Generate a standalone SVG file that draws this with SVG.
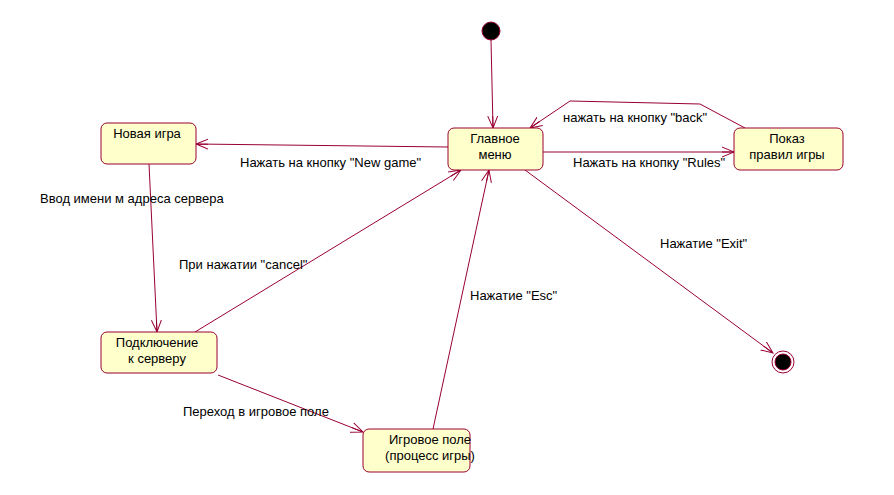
<svg xmlns="http://www.w3.org/2000/svg" width="894" height="495" viewBox="0 0 894 495">
<style>
.n{fill:#ffffcc;stroke:#990033;stroke-width:1}
.t{font-family:"Liberation Sans",Arial,sans-serif;font-size:13px;fill:#000}
.c{fill:none;stroke:#990033;stroke-width:1}
.m{text-anchor:middle}
</style>
<defs>
<marker id="a" markerWidth="14" markerHeight="12" refX="12" refY="6" orient="auto" markerUnits="userSpaceOnUse">
<path d="M0,1 L12,6 L0,11 M0,6 L12,6" fill="none" stroke="#990033" stroke-width="1"/>
</marker>
</defs>
<rect width="894" height="495" fill="#fff"/>
<g id="connectors">
<line class="c" x1="491" y1="40" x2="493" y2="128" marker-end="url(#a)"/>
<line class="c" x1="448" y1="147" x2="196" y2="144" marker-end="url(#a)"/>
<line class="c" x1="543" y1="152" x2="734" y2="152" marker-end="url(#a)"/>
<polyline class="c" points="745,128 700,104 570,101 530,128" marker-end="url(#a)"/>
<line class="c" x1="149" y1="164" x2="157" y2="332" marker-end="url(#a)"/>
<line class="c" x1="195" y1="332" x2="461" y2="170" marker-end="url(#a)"/>
<line class="c" x1="218" y1="375" x2="363" y2="432" marker-end="url(#a)"/>
<line class="c" x1="433" y1="429" x2="489" y2="170" marker-end="url(#a)"/>
<line class="c" x1="525" y1="170" x2="773" y2="353" marker-end="url(#a)"/>
<text class="t" x="240" y="167">Нажать на кнопку "New game"</text>
<text class="t" x="563" y="122">нажать на кнопку "back"</text>
<text class="t" x="573" y="167">Нажать на кнопку "Rules"</text>
<text class="t" x="40" y="203">Ввод имени м адреса сервера</text>
<text class="t" x="179" y="269">При нажатии "cancel"</text>
<text class="t" x="470" y="300">Нажатие "Esc"</text>
<text class="t" x="660" y="248">Нажатие "Exit"</text>
<text class="t" x="183" y="416">Переход в игровое поле</text>
</g>
<g id="start"><circle cx="491" cy="31" r="9" fill="#000" stroke="#990033"/></g>
<g id="end"><circle cx="783" cy="362" r="11" fill="#fff" stroke="#990033"/><circle cx="783" cy="362" r="8" fill="#000" stroke="#990033"/></g>
<g id="main"><rect class="n" x="448" y="128" width="95" height="42" rx="6"/><text class="t m" x="495" y="143">Главное</text><text class="t m" x="495" y="159">меню</text></g>
<g id="newgame"><rect class="n" x="101" y="123" width="95" height="41" rx="6"/><text class="t m" x="147" y="138">Новая игра</text></g>
<g id="rules"><rect class="n" x="734" y="128" width="109" height="42" rx="6"/><text class="t m" x="787" y="143">Показ</text><text class="t m" x="787" y="159">правил игры</text></g>
<g id="connect"><rect class="n" x="101" y="332" width="116" height="41" rx="6"/><text class="t m" x="157" y="347">Подключение</text><text class="t m" x="157" y="363">к серверу</text></g>
<g id="game"><rect class="n" x="363" y="429" width="107" height="43" rx="6"/><text class="t m" x="430" y="444">Игровое поле</text><text class="t m" x="430" y="460">(процесс игры)</text></g>
</svg>
